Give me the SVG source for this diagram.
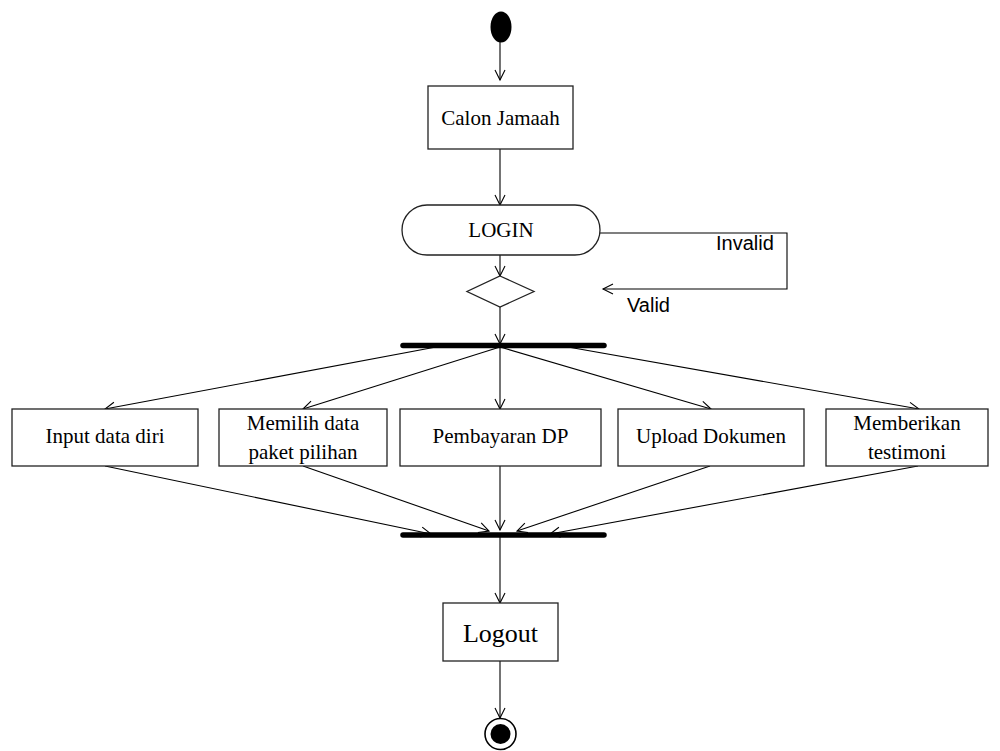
<svg xmlns="http://www.w3.org/2000/svg" width="1000" height="751" viewBox="0 0 1000 751">
<defs>
<style>
.box{fill:#fff;stroke:#222;stroke-width:1.3}
.t{font-family:"Liberation Serif","Times New Roman",serif;font-size:21px;fill:#000;text-anchor:middle}
.a{font-family:"Liberation Sans",Arial,sans-serif;font-size:20px;fill:#000}
.c{fill:none;stroke:#000;stroke-width:1.1}
.bar{stroke:#000;stroke-width:5.5;stroke-linecap:round}
</style>
<marker id="arr" markerUnits="userSpaceOnUse" markerWidth="14" markerHeight="14" refX="11" refY="6" orient="auto" viewBox="0 0 14 12">
<path d="M1,1 L11,6 L1,11" fill="none" stroke="#000" stroke-width="1.1"/>
</marker>
</defs>
<rect width="1000" height="751" fill="#fff"/>

<g id="connectors">
<line class="c" x1="500" y1="42" x2="500" y2="80" marker-end="url(#arr)"/>
<line class="c" x1="500" y1="149" x2="500" y2="205" marker-end="url(#arr)"/>
<line class="c" x1="500" y1="255" x2="500" y2="276" marker-end="url(#arr)"/>
<polyline class="c" points="600,233 787,233 787,289 603,289" marker-end="url(#arr)"/>
<line class="c" x1="500" y1="307" x2="500" y2="344" marker-end="url(#arr)"/>
<line class="c" x1="436" y1="347" x2="105" y2="409" marker-end="url(#arr)"/>
<line class="c" x1="500" y1="347" x2="303" y2="409" marker-end="url(#arr)"/>
<line class="c" x1="500" y1="347" x2="500" y2="409" marker-end="url(#arr)"/>
<line class="c" x1="500" y1="347" x2="711" y2="409" marker-end="url(#arr)"/>
<line class="c" x1="568" y1="347" x2="919" y2="409" marker-end="url(#arr)"/>
<line class="c" x1="105" y1="466" x2="431" y2="534" marker-end="url(#arr)"/>
<line class="c" x1="303" y1="466" x2="489" y2="531" marker-end="url(#arr)"/>
<line class="c" x1="500" y1="466" x2="500" y2="530" marker-end="url(#arr)"/>
<line class="c" x1="710" y1="466" x2="517" y2="531" marker-end="url(#arr)"/>
<line class="c" x1="918" y1="466" x2="550" y2="534" marker-end="url(#arr)"/>
<line class="c" x1="500" y1="535" x2="500" y2="603" marker-end="url(#arr)"/>
<line class="c" x1="500" y1="661" x2="500" y2="718" marker-end="url(#arr)"/>
<text class="a" x="716" y="250">Invalid</text>
<text class="a" x="627" y="312">Valid</text>
</g>

<g id="start"><ellipse cx="501" cy="27" rx="10.5" ry="15.5" fill="#000"/></g>

<g id="calon-jamaah">
<rect class="box" x="428" y="86" width="145" height="63"/>
<text class="t" x="500.5" y="125">Calon Jamaah</text>
</g>

<g id="login">
<rect class="box" x="402" y="205" width="198" height="50" rx="25" ry="25"/>
<text class="t" x="501" y="237">LOGIN</text>
</g>

<g id="decision"><polygon class="box" points="500,276 534,291.5 500,307 467,291.5"/></g>

<g id="fork"><line class="bar" x1="403" y1="345.5" x2="604" y2="345.5"/></g>

<g id="input-data-diri">
<rect class="box" x="12" y="409" width="186" height="57"/>
<text class="t" x="105" y="443">Input data diri</text>
</g>
<g id="memilih-data">
<rect class="box" x="219" y="409" width="168" height="57"/>
<text class="t" x="303" y="430">Memilih data</text>
<text class="t" x="303" y="459">paket pilihan</text>
</g>
<g id="pembayaran-dp">
<rect class="box" x="400" y="409" width="201" height="57"/>
<text class="t" x="500.5" y="443">Pembayaran DP</text>
</g>
<g id="upload-dokumen">
<rect class="box" x="618" y="409" width="186" height="57"/>
<text class="t" x="711" y="443">Upload Dokumen</text>
</g>
<g id="memberikan-testimoni">
<rect class="box" x="826" y="409" width="162" height="57"/>
<text class="t" x="907" y="430">Memberikan</text>
<text class="t" x="907" y="459">testimoni</text>
</g>

<g id="join"><line class="bar" x1="403" y1="535" x2="604" y2="535"/></g>

<g id="logout">
<rect class="box" x="443" y="603" width="115" height="58"/>
<text class="t" x="500.5" y="642" style="font-size:26px">Logout</text>
</g>

<g id="end">
<circle cx="500.5" cy="734" r="15.5" fill="#fff" stroke="#000" stroke-width="1.6"/>
<circle cx="500.5" cy="734" r="10" fill="#000"/>
</g>
</svg>
